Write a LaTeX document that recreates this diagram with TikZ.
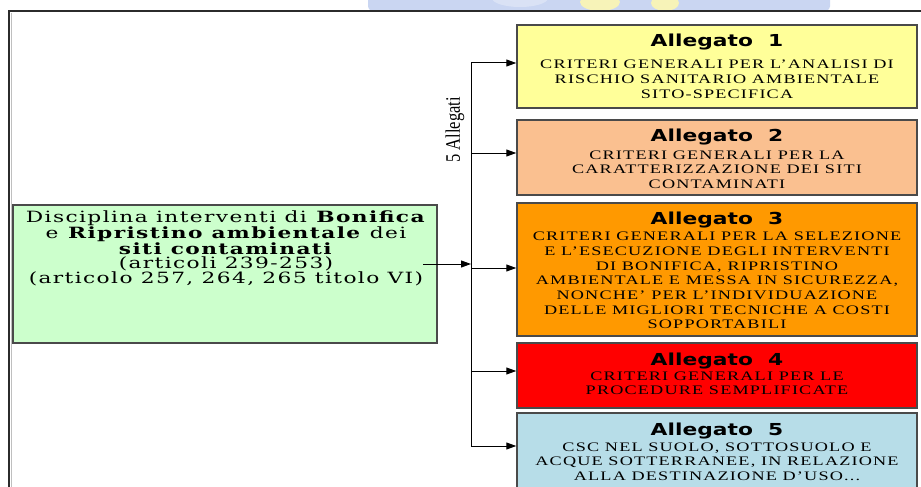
\documentclass[tikz,border=0pt]{standalone}
\usepackage{fontspec}
\setmainfont{Liberation Serif}
\newfontfamily\bodyfont[FakeStretch=1.4,LetterSpace=9]{Liberation Serif}
\newfontfamily\greenfont[FakeStretch=1.4,LetterSpace=9]{DejaVu Serif}
\newfontfamily\titlefont[FakeStretch=1.32]{DejaVu Sans}
\usetikzlibrary{arrows.meta}

\definecolor{boxline}{HTML}{4A4A4A}
\definecolor{frameline}{HTML}{2B2B2B}
\definecolor{fillA}{HTML}{FFFF99}
\definecolor{fillB}{HTML}{FAC090}
\definecolor{fillC}{HTML}{FF9900}
\definecolor{fillD}{HTML}{FF0000}
\definecolor{fillE}{HTML}{B7DDE8}
\definecolor{fillG}{HTML}{CCFFCC}
\definecolor{wmblue}{HTML}{CAD6F2}
\definecolor{wmyellow}{HTML}{F7F3B8}

\begin{document}
\begin{tikzpicture}[x=1pt,y=-1pt,
  allegato/.style={draw=boxline, line width=1.5pt, minimum width=400pt,
    inner sep=0pt},
  annextext/.style={anchor=north, align=center, inner sep=0pt,
    font=\bodyfont\fontsize{13}{14.7}\selectfont},
  greenbox/.style={draw=boxline, fill=fillG, line width=1.5pt,
    minimum width=424pt, minimum height=138pt, inner sep=0pt},
  greentext/.style={anchor=north, align=center, inner sep=0pt,
    font=\greenfont\fontsize{15.5}{14.5}\selectfont},
  wire/.style={line width=1pt, black},
  feed/.style={wire, -{Triangle[length=10pt,width=7pt]}},
  frame/.style={line width=1.6pt, frameline},
  sidelabel/.style={rotate=90, inner sep=0pt,
    font=\fontsize{16.5}{18}\selectfont}]
\newcommand{\alltitle}[2]{{\titlefont\bfseries\fontsize{16.5}{18}\selectfont Allegato\ \ #1}\\[#2]}

\useasboundingbox (0,0) rectangle (921,487);
\clip (0,0) rectangle (921,487);

% faded banner above the frame
\fill[wmblue, rounded corners=4pt] (368,-6) rectangle (830,10.5);
\fill[white, opacity=0.3] (520,-2) ellipse (28 and 9);
\fill[wmyellow] (600,2) ellipse (20 and 9);
\fill[wmyellow] (665,3) ellipse (14 and 8);

% outer frame
\coordinate (frTR) at (921,11);
\coordinate (frTL) at (9,11);
\coordinate (frBL) at (9,490);
\draw[frame] (frTR) -- (frTL) -- (frBL);
\draw[line width=1pt, black!25] (11.5,13) -- (11.5,490);

% source box
\node[greenbox] (green) at (225,274) {};
\node[greentext] (greentxt) at (226,210.2)
  {Disciplina interventi di \textbf{Bonifica}\\
   e \textbf{Ripristino ambientale} dei\\
   \textbf{siti contaminati}\\
   (articoli 239-253)\\
   (articolo 257, 264, 265 titolo VI)};

% annex boxes
\node[allegato, fill=fillA, minimum height=83pt] (a1) at (717,66.5) {};
\node[allegato, fill=fillB, minimum height=75pt] (a2) at (717,157.5) {};
\node[allegato, fill=fillC, minimum height=133pt] (a3) at (717,269.5) {};
\node[allegato, fill=fillD, minimum height=65pt] (a4) at (717,375.5) {};
\node[allegato, fill=fillE, minimum height=77pt] (a5) at (717,451.5) {};

\node[annextext] (t1) at (717,33.5)
  {\alltitle{1}{7.8pt}CRITERI GENERALI PER L’ANALISI DI\\
   RISCHIO SANITARIO AMBIENTALE\\SITO-SPECIFICA};
\node[annextext] (t2) at (717,129)
  {\alltitle{2}{2.8pt}CRITERI GENERALI PER LA\\
   CARATTERIZZAZIONE DEI SITI\\CONTAMINATI};
\node[annextext] (t3) at (717,212)
  {\alltitle{3}{1.3pt}CRITERI GENERALI PER LA SELEZIONE\\
   E L’ESECUZIONE DEGLI INTERVENTI\\
   DI BONIFICA, RIPRISTINO\\
   AMBIENTALE E MESSA IN SICUREZZA,\\
   NONCHE’ PER L’INDIVIDUAZIONE\\
   DELLE MIGLIORI TECNICHE A COSTI\\
   SOPPORTABILI};
\node[annextext] (t4) at (717,352.5)
  {\alltitle{4}{0.3pt}CRITERI GENERALI PER LE\\PROCEDURE SEMPLIFICATE};
\node[annextext] (t5) at (717,422.5)
  {\alltitle{5}{1.3pt}CSC NEL SUOLO, SOTTOSUOLO E\\
   ACQUE SOTTERRANEE, IN RELAZIONE\\
   ALLA DESTINAZIONE D’USO...};

% distribution bus
\coordinate (src) at (423,264);
\coordinate (busin) at (471,264);
\coordinate (tap1) at (471,63);
\coordinate (tap2) at (471,153);
\coordinate (tap3) at (471,268);
\coordinate (tap4) at (471,371);
\coordinate (tap5) at (471,446);

\draw[wire] (tap1) -- (tap5);
\draw[feed] (src) -- (busin);
\draw[feed] (tap1) -- (tap1 -| a1.west);
\draw[feed] (tap2) -- (tap2 -| a2.west);
\draw[feed] (tap3) -- (tap3 -| a3.west);
\draw[feed] (tap4) -- (tap4 -| a4.west);
\draw[feed] (tap5) -- (tap5 -| a5.west);

\node[sidelabel] (count) at (455,130) {\scalebox{1}[1.25]{5 Allegati}};
\end{tikzpicture}
\end{document}
